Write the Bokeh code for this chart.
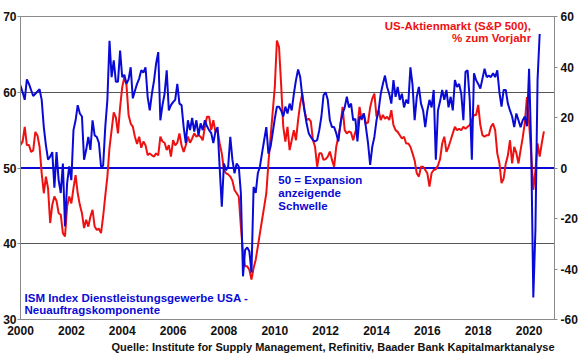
from bokeh.plotting import figure
from bokeh.models import (Range1d, LinearAxis, Span, Label, Title, SingleIntervalTicker,
                          FixedTicker, CustomJSTickFormatter)
from bokeh.embed import file_html
from bokeh.resources import INLINE

# ISM services (non-manufacturing) new orders index, monthly from Jan 2000
ism_start_year = 2000.0
ism_new_orders = [
    60.9, 60.0, 59.0, 61.7, 61.1, 60.3, 59.5, 59.8, 60.1, 60.4, 59.0, 55.4,   # 2000
    53.0, 51.1, 51.5, 52.1, 47.4, 52.1, 48.4, 46.7, 50.6, 42.3, 48.0, 50.2,   # 2001
    48.4, 55.0, 56.3, 58.3, 57.2, 56.8, 51.1, 52.4, 54.1, 52.4, 56.3, 54.3,   # 2002
    54.1, 53.3, 50.2, 50.3, 55.4, 59.0, 66.8, 62.0, 64.2, 61.4, 61.4, 65.5,   # 2003
    62.0, 62.3, 61.1, 61.7, 63.3, 59.2, 60.2, 61.1, 61.8, 62.9, 62.6, 63.3,   # 2004
    59.4, 57.6, 59.8, 61.5, 63.8, 65.3, 56.3, 58.3, 59.8, 62.9, 57.6, 58.3,   # 2005
    58.7, 59.0, 61.1, 58.5, 58.3, 55.4, 53.3, 56.3, 55.0, 56.6, 54.8, 56.3,   # 2006
    54.3, 55.9, 55.0, 56.3, 55.5, 55.0, 54.6, 53.3, 54.8, 55.4, 50.0, 44.9,   # 2007
    50.6, 49.7, 50.2, 54.1, 51.1, 49.3, 50.6, 50.2, 46.7, 35.7, 39.2, 39.5,   # 2008
    39.0, 36.2, 47.5, 46.7, 49.3, 50.2, 52.0, 53.7, 55.4, 51.9, 52.8, 54.6,   # 2009
    56.5, 58.1, 58.1, 57.6, 56.8, 58.1, 57.2, 58.5, 57.6, 59.8, 61.6, 63.0,   # 2010
    62.0, 59.4, 57.6, 55.9, 54.6, 54.1, 53.7, 53.5, 53.7, 55.0, 56.8, 59.6,   # 2011
    60.0, 59.0, 56.3, 55.4, 55.4, 54.6, 53.5, 55.9, 57.2, 58.0, 59.4, 58.0,   # 2012
    58.5, 56.3, 56.5, 53.5, 56.8, 56.5, 57.2, 55.4, 53.3, 50.4, 52.8, 54.1,   # 2013
    56.3, 57.6, 59.8, 61.1, 62.2, 60.7, 59.8, 58.5, 61.6, 59.4, 60.7, 59.0,   # 2014
    59.8, 58.0, 59.0, 58.5, 63.3, 61.0, 56.3, 59.4, 60.7, 58.5, 57.6, 55.4,   # 2015
    57.6, 59.0, 58.0, 60.3, 51.1, 57.6, 58.8, 60.3, 59.0, 60.3, 58.0, 59.4,   # 2016
    57.6, 61.6, 60.7, 61.1, 59.8, 56.3, 62.7, 62.9, 59.0, 51.1, 62.5, 61.6,   # 2017
    61.1, 60.5, 61.8, 63.1, 62.0, 62.2, 62.0, 62.5, 62.0, 62.9, 60.0, 58.1,   # 2018
    60.3, 60.3, 58.5, 57.6, 56.8, 55.4, 57.2, 56.3, 55.4, 56.3, 56.8, 55.5,   # 2019
    63.1, 52.9, 32.9, 41.9, 61.6, 67.7,                                       # 2020
]

# S&P 500, % change on the year before, monthly from Dec 1999
spx_start_year = 1999.0 + 11 / 12
spx_yoy = [
    19.5,
    9.1, 10.4, 16.3, 9.1, 9.1, 6.4, 7.0, 14.3, 12.9, 8.4, -2.1, -10.0,        # 2000
    -3.4, -8.0, -21.8, -14.6, -11.3, -13.0, -17.9, -18.5, -25.8, -27.1, -15.3, -11.3,  # 2001
    -14.0, -8.0, -2.8, -10.0, -14.6, -17.9, -23.8, -20.5, -23.2, -19.2, -16.6, -23.2,  # 2002
    -24.5, -24.0, -25.8, -19.2, -11.0, -3.4, 8.0, 15.0, 22.0, 20.0, 13.7, 24.0,       # 2003
    32.0, 36.0, 33.0, 21.0, 17.6, 16.4, 12.4, 9.5, 12.4, 8.0, 10.5, 9.0,      # 2004
    5.1, 5.8, 5.0, 4.5, 5.8, 5.0, 12.4, 10.5, 10.0, 7.1, 9.0, 4.5,            # 2005
    11.0, 9.0, 10.0, 13.7, 9.0, 6.4, 9.0, 12.4, 10.0, 11.7, 13.7, 12.4,       # 2006
    13.0, 12.4, 11.0, 16.3, 20.3, 20.3, 15.0, 18.9, 14.3, 15.0, 9.7, 5.8,     # 2007
    -0.8, -2.1, -2.5, -3.4, -5.0, -8.7, -10.0, -11.3, -23.2, -33.7, -38.9, -38.9,  # 2008
    -40.3, -44.2, -39.6, -36.3, -31.1, -25.8, -20.5, -15.3, -10.0, 2.0, 12.0, 22.0,  # 2009
    32.0, 50.5, 47.9, 33.0, 16.3, 10.5, 16.3, 7.1, 11.0, 15.0, 11.0, 19.0,    # 2010
    25.5, 29.5, 22.9, 19.0, 19.5, 18.5, 11.0, 8.4, 0.5, 5.8, 5.8, 3.2,        # 2011
    3.5, 4.5, 6.5, 3.2, 0.5, 8.4, 12.4, 17.0, 24.2, 15.0, 13.7, 14.5,         # 2012
    14.0, 11.0, 14.3, 16.3, 24.2, 19.0, 21.6, 17.6, 18.0, 24.0, 27.5, 29.5,   # 2013
    20.3, 22.9, 19.0, 21.0, 19.5, 20.3, 19.0, 22.9, 17.0, 15.0, 14.3, 13.0,   # 2014
    11.7, 12.4, 9.7, 9.7, 8.4, 5.8, 3.0, -2.1, -3.4, 0.5, 0.5, -0.8,          # 2015
    -2.1, -7.4, -2.0, -0.8, -0.5, 1.0, 3.5, 9.7, 12.4, 6.4, 8.4, 11.0,        # 2016
    13.7, 16.3, 15.0, 15.5, 15.0, 16.3, 15.5, 16.3, 17.0, 19.0, 21.0, 21.0,   # 2017
    25.0, 17.0, 13.0, 12.4, 13.0, 13.0, 16.3, 17.6, 15.0, 5.8, 2.0, -6.0,     # 2018
    -4.2, 1.8, 5.0, 11.0, 1.8, 8.4, 6.0, 1.8, 7.1, 12.0, 18.0, 28.1,          # 2019
    18.0, 5.8, -8.7, -1.0, 9.7, 4.5, 9.8, 14.5,                               # 2020
]

year_ticks_interval = 2
left_ticks = [30, 40, 50, 60, 70]
right_ticks = [-60, -40, -20, 0, 20, 40, 60]

ism_x = [ism_start_year + i / 12 for i in range(len(ism_new_orders))]
spx_x = [spx_start_year + i / 12 for i in range(len(spx_yoy))]

BLUE = "#0a0ad6"
RED = "#ee1111"
FONT = "Liberation Sans"

p = figure(width=580, height=353, output_backend="svg", toolbar_location=None,
           x_range=Range1d(2000, 2021), y_range=Range1d(30, 70))
p.min_border_left = 0
p.min_border_right = 0
p.min_border_top = 16
p.min_border_bottom = 0
p.background_fill_color = "white"
p.border_fill_color = "white"
p.outline_line_color = "#8a8a8a"
p.outline_line_width = 1

p.extra_y_ranges = {"right": Range1d(-60, 60)}

p.xgrid.visible = False
p.ygrid.ticker = FixedTicker(ticks=[40, 60])
p.ygrid.grid_line_color = "#555555"
p.ygrid.grid_line_width = 1

plain = CustomJSTickFormatter(code="return tick.toString();")

def style_axis(ax):
    ax.axis_line_color = "#8a8a8a"
    ax.major_tick_line_color = "#8a8a8a"
    ax.minor_tick_line_color = None
    ax.major_tick_in = 0
    ax.major_tick_out = 3
    ax.major_label_text_font = FONT
    ax.major_label_text_font_style = "bold"
    ax.major_label_text_font_size = "12px"
    ax.major_label_text_color = "#111111"
    ax.major_label_standoff = 1
    ax.formatter = plain

xa = p.xaxis[0]
xa.ticker = SingleIntervalTicker(interval=year_ticks_interval)
style_axis(xa)
xa.major_tick_out = 0
xa.major_label_standoff = 2

ya = p.yaxis[0]
ya.ticker = FixedTicker(ticks=left_ticks)
style_axis(ya)

ra = LinearAxis(y_range_name="right", ticker=FixedTicker(ticks=right_ticks))
style_axis(ra)
ra.major_label_standoff = 3
p.add_layout(ra, "right")

p.add_layout(Span(location=50, dimension="width", line_color=BLUE, line_width=2, level="underlay"))

p.line(spx_x, spx_yoy, y_range_name="right", line_color=RED, line_width=2)
p.line(ism_x, ism_new_orders, line_color=BLUE, line_width=2)

def lab(x, y, text, color, align="left"):
    p.add_layout(Label(x=x, y=y, text=text, text_color=color, text_font=FONT,
                       text_font_style="bold", text_font_size="11.5px",
                       text_align=align, text_baseline="middle"))

lab(2020.08, 68.8, "US-Aktienmarkt (S&P 500),", RED, "right")
lab(2020.08, 67.1, "% zum Vorjahr", RED, "right")
lab(2010.14, 48.4, "50 = Expansion", BLUE)
lab(2010.14, 46.7, "anzeigende", BLUE)
lab(2010.14, 45.0, "Schwelle", BLUE)
lab(2000.16, 32.9, "ISM Index Dienstleistungsgewerbe USA -", BLUE)
lab(2000.16, 31.3, "Neuauftragskomponente", BLUE)

src = Title(text="Quelle: Institute for Supply Management, Refinitiv, Baader Bank Kapitalmarktanalyse",
            align="right", text_font=FONT, text_font_style="bold", text_font_size="11px",
            text_color="#111111", standoff=2, offset=0)
p.add_layout(src, "below")

open("out.html", "w").write(file_html(p, INLINE))
